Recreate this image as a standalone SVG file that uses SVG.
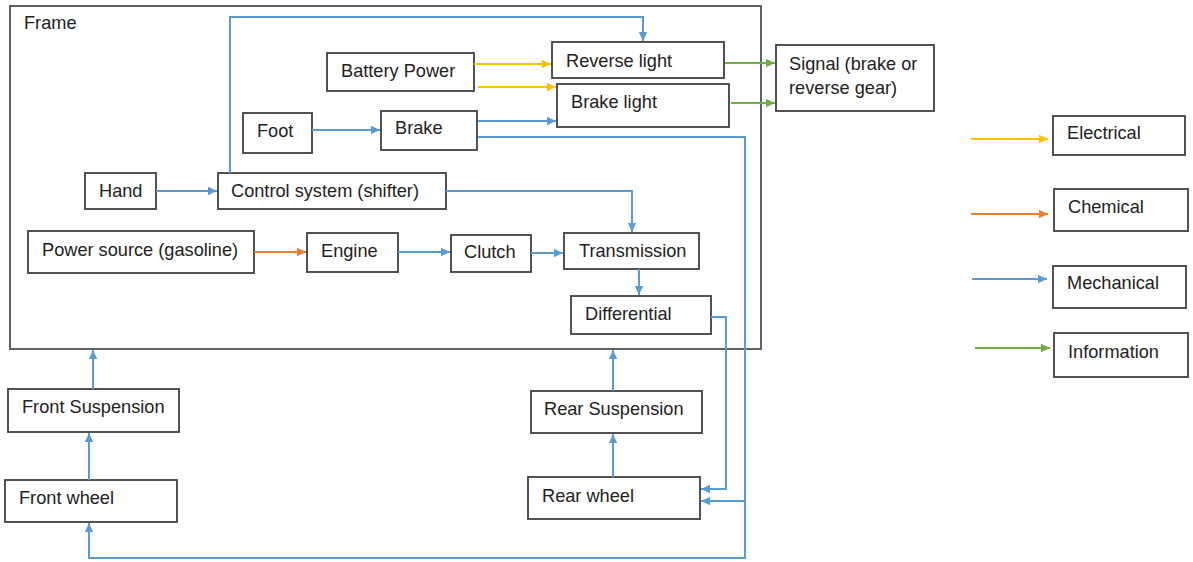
<svg xmlns="http://www.w3.org/2000/svg" width="1193" height="562" viewBox="0 0 1193 562">
<style>
.box{fill:#fff;stroke:#404040;stroke-width:1.8}
.frame{fill:none;stroke:#505050;stroke-width:1.8}
text{font-family:"Liberation Sans",Arial,sans-serif;font-size:18.2px;fill:#222}
.c{fill:none;stroke-width:2}
.b{stroke:#5B9BD5}
.y{stroke:#FFC000}
.o{stroke:#ED7D31}
.g{stroke:#70AD47}
</style>
<defs>
<marker id="mb" markerUnits="userSpaceOnUse" markerWidth="10" markerHeight="10" refX="9" refY="5" orient="auto"><path d="M0,0.8 L9,5 L0,9.2 z" fill="#5B9BD5"/></marker>
<marker id="my" markerUnits="userSpaceOnUse" markerWidth="10" markerHeight="10" refX="9" refY="5" orient="auto"><path d="M0,0.8 L9,5 L0,9.2 z" fill="#FFC000"/></marker>
<marker id="mo" markerUnits="userSpaceOnUse" markerWidth="10" markerHeight="10" refX="9" refY="5" orient="auto"><path d="M0,0.8 L9,5 L0,9.2 z" fill="#ED7D31"/></marker>
<marker id="mg" markerUnits="userSpaceOnUse" markerWidth="10" markerHeight="10" refX="9" refY="5" orient="auto"><path d="M0,0.8 L9,5 L0,9.2 z" fill="#70AD47"/></marker>
</defs>
<rect width="1193" height="562" fill="#fff"/>
<g id="frame"><rect class="frame" x="10" y="6" width="751" height="343"/><text x="24" y="29">Frame</text></g>
<g id="battery"><rect class="box" x="327" y="53" width="147" height="38"/><text x="341" y="77">Battery Power</text></g>
<g id="foot"><rect class="box" x="243" y="113" width="69" height="40"/><text x="257" y="137">Foot</text></g>
<g id="brake"><rect class="box" x="381" y="111" width="96" height="39"/><text x="395" y="134">Brake</text></g>
<g id="hand"><rect class="box" x="85" y="173" width="71" height="36"/><text x="99" y="197">Hand</text></g>
<g id="control"><rect class="box" x="218" y="173" width="228" height="36"/><text x="231" y="197">Control system (shifter)</text></g>
<g id="power"><rect class="box" x="28" y="231" width="226" height="42"/><text x="42" y="256">Power source (gasoline)</text></g>
<g id="engine"><rect class="box" x="307" y="233" width="91" height="39"/><text x="321" y="257">Engine</text></g>
<g id="clutch"><rect class="box" x="451" y="235" width="80" height="37"/><text x="464" y="258">Clutch</text></g>
<g id="transmission"><rect class="box" x="564" y="233" width="135" height="36"/><text x="579" y="257">Transmission</text></g>
<g id="reverse"><rect class="box" x="552" y="42" width="172" height="36"/><text x="566" y="67">Reverse light</text></g>
<g id="brakelight"><rect class="box" x="557" y="84" width="172" height="43"/><text x="571" y="108">Brake light</text></g>
<g id="signal"><rect class="box" x="776" y="45" width="158" height="66"/><text x="789" y="70">Signal (brake or</text><text x="789" y="94">reverse gear)</text></g>
<g id="differential"><rect class="box" x="571" y="296" width="140" height="38"/><text x="585" y="320">Differential</text></g>
<g id="rearsusp"><rect class="box" x="531" y="391" width="171" height="42"/><text x="544" y="415">Rear Suspension</text></g>
<g id="rearwheel"><rect class="box" x="528" y="477" width="172" height="42"/><text x="542" y="502">Rear wheel</text></g>
<g id="frontsusp"><rect class="box" x="8" y="389" width="171" height="43"/><text x="22" y="413">Front Suspension</text></g>
<g id="frontwheel"><rect class="box" x="5" y="480" width="172" height="42"/><text x="19" y="504">Front wheel</text></g>
<g id="legend-electrical"><rect class="box" x="1053" y="116" width="132" height="39"/><text x="1067" y="139">Electrical</text></g>
<g id="legend-chemical"><rect class="box" x="1054" y="189" width="134" height="42"/><text x="1068" y="213">Chemical</text></g>
<g id="legend-mechanical"><rect class="box" x="1053" y="266" width="133" height="42"/><text x="1067" y="289">Mechanical</text></g>
<g id="legend-information"><rect class="box" x="1054" y="333" width="134" height="44"/><text x="1068" y="358">Information</text></g>
<g id="connectors">
<path class="c b" d="M156,191 H217" marker-end="url(#mb)"/>
<path class="c b" d="M312,130 H380" marker-end="url(#mb)"/>
<path class="c y" d="M474,64 H551" marker-end="url(#my)"/>
<path class="c y" d="M478,87 H556" marker-end="url(#my)"/>
<path class="c b" d="M478,121 H556" marker-end="url(#mb)"/>
<path class="c g" d="M725,63 H775" marker-end="url(#mg)"/>
<path class="c g" d="M731,103 H775" marker-end="url(#mg)"/>
<path class="c b" d="M230,173 V17 H643 V41" marker-end="url(#mb)"/>
<path class="c b" d="M446,191 H632 V232" marker-end="url(#mb)"/>
<path class="c o" d="M254,252 H306" marker-end="url(#mo)"/>
<path class="c b" d="M398,252 H450" marker-end="url(#mb)"/>
<path class="c b" d="M531,253 H563" marker-end="url(#mb)"/>
<path class="c b" d="M639,269 V295" marker-end="url(#mb)"/>
<path class="c b" d="M711,317 H726 V489 H701" marker-end="url(#mb)"/>
<path class="c b" d="M478,137 H745 V558 H89 V523" marker-end="url(#mb)"/>
<path class="c b" d="M745,501 H701" marker-end="url(#mb)"/>
<path class="c b" d="M613,477 V434" marker-end="url(#mb)"/>
<path class="c b" d="M613,391 V350" marker-end="url(#mb)"/>
<path class="c b" d="M89,480 V433" marker-end="url(#mb)"/>
<path class="c b" d="M93,389 V350" marker-end="url(#mb)"/>
<path class="c y" d="M971,139 H1048" marker-end="url(#my)"/>
<path class="c o" d="M971,214 H1048" marker-end="url(#mo)"/>
<path class="c b" d="M972,279 H1047" marker-end="url(#mb)"/>
<path class="c g" d="M975,348 H1050" marker-end="url(#mg)"/>
</g>
</svg>
